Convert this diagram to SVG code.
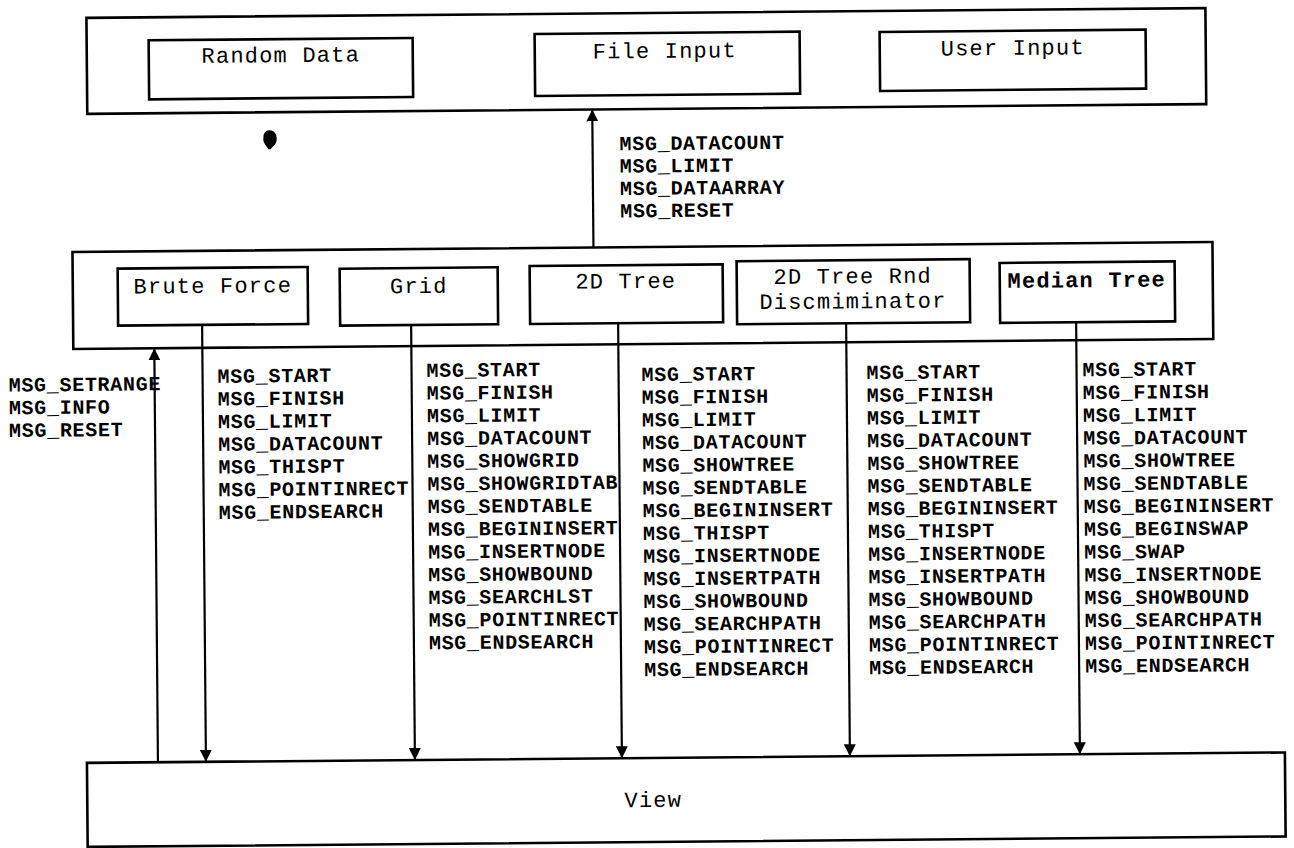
<svg xmlns="http://www.w3.org/2000/svg" width="1294" height="848" viewBox="0 0 1294 848">
<style>
.box{fill:none;stroke:#000;stroke-width:2.6}
.wire{fill:none;stroke:#000;stroke-width:2.2}
.lbl{font-family:"Liberation Mono","Courier New",monospace;font-size:22px;letter-spacing:1.2px;fill:#000}
.lblb{font-family:"Liberation Mono","Courier New",monospace;font-size:22px;letter-spacing:1.2px;font-weight:bold;fill:#000}
.msg{font-family:"Liberation Mono","Courier New",monospace;font-size:20px;letter-spacing:0.7px;font-weight:bold;fill:#000}
</style>
<defs>
<marker id="ah" viewBox="0 0 12 12" refX="11" refY="6" markerWidth="12" markerHeight="12" markerUnits="userSpaceOnUse" orient="auto">
<path d="M0,0 L12,6 L0,12 Z" fill="#000"/>
</marker>
</defs>
<rect width="1294" height="848" fill="#fff"/>
<g transform="rotate(-0.5 647 424)">
<g id="input-container">
<rect class="box" x="90" y="13" width="1119" height="96"/>
</g>
<g id="random-data">
<rect class="box" x="152" y="36" width="264" height="59"/>
<text class="lbl" x="284" y="59" text-anchor="middle">Random Data</text>
</g>
<g id="file-input">
<rect class="box" x="538" y="33" width="265" height="62"/>
<text class="lbl" x="668" y="58" text-anchor="middle">File Input</text>
</g>
<g id="user-input">
<rect class="box" x="883" y="34" width="266" height="59"/>
<text class="lbl" x="1016" y="58" text-anchor="middle">User Input</text>
</g>
<path d="M272,127 C278,127 280,133 279,138 C278,142 275,143 273,146 L271,146 C268,142 265,139 266,134 C266,130 268,127 272,127 Z" fill="#000"/>
<g id="algorithm-container">
<rect class="box" x="74" y="247" width="1140" height="97"/>
</g>
<g id="brute-force">
<rect class="box" x="119" y="264" width="190" height="57"/>
<text class="lbl" x="214" y="289" text-anchor="middle">Brute Force</text>
</g>
<g id="grid">
<rect class="box" x="341" y="266" width="158" height="57"/>
<text class="lbl" x="420" y="291" text-anchor="middle">Grid</text>
</g>
<g id="tree-2d">
<rect class="box" x="531" y="265" width="193" height="58"/>
<text class="lbl" x="627" y="288" text-anchor="middle">2D Tree</text>
</g>
<g id="tree-2d-rnd">
<rect class="box" x="738" y="262" width="233" height="63"/>
<text class="lbl" x="854" y="285" text-anchor="middle">2D Tree Rnd</text>
<text class="lbl" x="854" y="310" text-anchor="middle">Discmiminator</text>
</g>
<g id="median-tree">
<rect class="box" x="1001" y="266" width="175" height="60"/>
<text class="lblb" x="1088" y="291" text-anchor="middle">Median Tree</text>
</g>
<g id="view">
<rect class="box" x="84" y="758" width="1198" height="84"/>
<text class="lbl" x="650" y="807" text-anchor="middle" font-size="20" letter-spacing="0">View</text>
</g>
<g id="connectors">
<line class="wire" x1="595" y1="247" x2="595" y2="110" marker-end="url(#ah)"/>
<line class="wire" x1="155" y1="758" x2="155" y2="345" marker-end="url(#ah)"/>
<line class="wire" x1="203" y1="321" x2="203" y2="757" marker-end="url(#ah)"/>
<line class="wire" x1="412" y1="323" x2="412" y2="757" marker-end="url(#ah)"/>
<line class="wire" x1="619" y1="323" x2="619" y2="757" marker-end="url(#ah)"/>
<line class="wire" x1="847" y1="325" x2="847" y2="757" marker-end="url(#ah)"/>
<line class="wire" x1="1077" y1="326" x2="1077" y2="757" marker-end="url(#ah)"/>
</g>
<g id="labels">
<text class="msg"><tspan x="622" y="150">MSG_DATACOUNT</tspan><tspan x="622" dy="22.4">MSG_LIMIT</tspan><tspan x="622" dy="22.4">MSG_DATAARRAY</tspan><tspan x="622" dy="22.4">MSG_RESET</tspan></text>
<text class="msg"><tspan x="9" y="386">MSG_SETRANGE</tspan><tspan x="9" dy="22.7">MSG_INFO</tspan><tspan x="9" dy="22.7">MSG_RESET</tspan></text>
<text class="msg"><tspan x="218" y="379">MSG_START</tspan><tspan x="218" dy="22.7">MSG_FINISH</tspan><tspan x="218" dy="22.7">MSG_LIMIT</tspan><tspan x="218" dy="22.7">MSG_DATACOUNT</tspan><tspan x="218" dy="22.7">MSG_THISPT</tspan><tspan x="218" dy="22.7">MSG_POINTINRECT</tspan><tspan x="218" dy="22.7">MSG_ENDSEARCH</tspan></text>
<text class="msg"><tspan x="427" y="375">MSG_START</tspan><tspan x="427" dy="22.7">MSG_FINISH</tspan><tspan x="427" dy="22.7">MSG_LIMIT</tspan><tspan x="427" dy="22.7">MSG_DATACOUNT</tspan><tspan x="427" dy="22.7">MSG_SHOWGRID</tspan><tspan x="427" dy="22.7">MSG_SHOWGRIDTAB</tspan><tspan x="427" dy="22.7">MSG_SENDTABLE</tspan><tspan x="427" dy="22.7">MSG_BEGININSERT</tspan><tspan x="427" dy="22.7">MSG_INSERTNODE</tspan><tspan x="427" dy="22.7">MSG_SHOWBOUND</tspan><tspan x="427" dy="22.7">MSG_SEARCHLST</tspan><tspan x="427" dy="22.7">MSG_POINTINRECT</tspan><tspan x="427" dy="22.7">MSG_ENDSEARCH</tspan></text>
<text class="msg"><tspan x="642" y="381">MSG_START</tspan><tspan x="642" dy="22.7">MSG_FINISH</tspan><tspan x="642" dy="22.7">MSG_LIMIT</tspan><tspan x="642" dy="22.7">MSG_DATACOUNT</tspan><tspan x="642" dy="22.7">MSG_SHOWTREE</tspan><tspan x="642" dy="22.7">MSG_SENDTABLE</tspan><tspan x="642" dy="22.7">MSG_BEGININSERT</tspan><tspan x="642" dy="22.7">MSG_THISPT</tspan><tspan x="642" dy="22.7">MSG_INSERTNODE</tspan><tspan x="642" dy="22.7">MSG_INSERTPATH</tspan><tspan x="642" dy="22.7">MSG_SHOWBOUND</tspan><tspan x="642" dy="22.7">MSG_SEARCHPATH</tspan><tspan x="642" dy="22.7">MSG_POINTINRECT</tspan><tspan x="642" dy="22.7">MSG_ENDSEARCH</tspan></text>
<text class="msg"><tspan x="867" y="381">MSG_START</tspan><tspan x="867" dy="22.7">MSG_FINISH</tspan><tspan x="867" dy="22.7">MSG_LIMIT</tspan><tspan x="867" dy="22.7">MSG_DATACOUNT</tspan><tspan x="867" dy="22.7">MSG_SHOWTREE</tspan><tspan x="867" dy="22.7">MSG_SENDTABLE</tspan><tspan x="867" dy="22.7">MSG_BEGININSERT</tspan><tspan x="867" dy="22.7">MSG_THISPT</tspan><tspan x="867" dy="22.7">MSG_INSERTNODE</tspan><tspan x="867" dy="22.7">MSG_INSERTPATH</tspan><tspan x="867" dy="22.7">MSG_SHOWBOUND</tspan><tspan x="867" dy="22.7">MSG_SEARCHPATH</tspan><tspan x="867" dy="22.7">MSG_POINTINRECT</tspan><tspan x="867" dy="22.7">MSG_ENDSEARCH</tspan></text>
<text class="msg"><tspan x="1083" y="380">MSG_START</tspan><tspan x="1083" dy="22.8">MSG_FINISH</tspan><tspan x="1083" dy="22.8">MSG_LIMIT</tspan><tspan x="1083" dy="22.8">MSG_DATACOUNT</tspan><tspan x="1083" dy="22.8">MSG_SHOWTREE</tspan><tspan x="1083" dy="22.8">MSG_SENDTABLE</tspan><tspan x="1083" dy="22.8">MSG_BEGININSERT</tspan><tspan x="1083" dy="22.8">MSG_BEGINSWAP</tspan><tspan x="1083" dy="22.8">MSG_SWAP</tspan><tspan x="1083" dy="22.8">MSG_INSERTNODE</tspan><tspan x="1083" dy="22.8">MSG_SHOWBOUND</tspan><tspan x="1083" dy="22.8">MSG_SEARCHPATH</tspan><tspan x="1083" dy="22.8">MSG_POINTINRECT</tspan><tspan x="1083" dy="22.8">MSG_ENDSEARCH</tspan></text>
</g>
</g>
</svg>
